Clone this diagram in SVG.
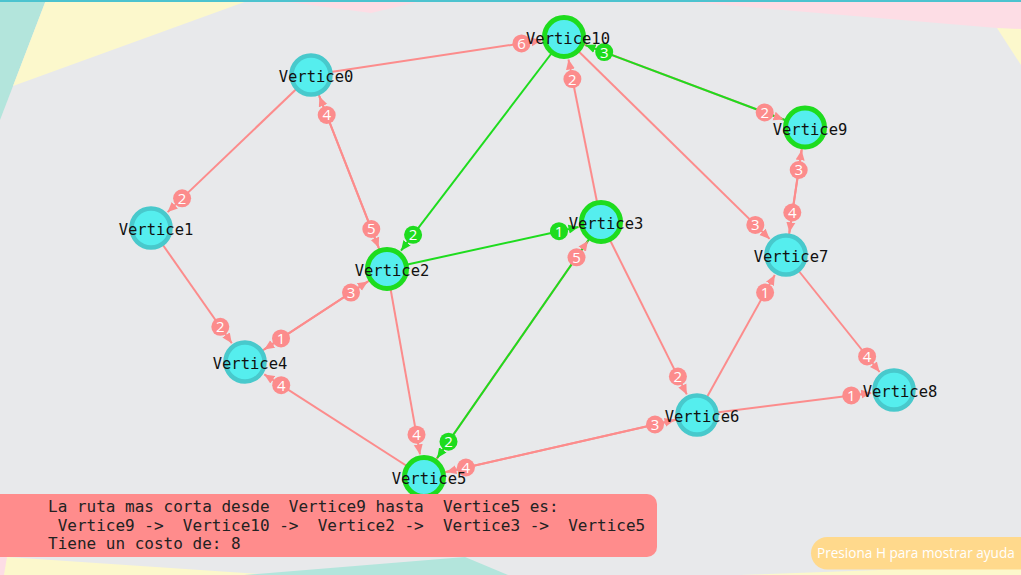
<svg xmlns="http://www.w3.org/2000/svg" width="1021" height="575" viewBox="0 0 1021 575">
<style>
.ep{stroke:#fc8c8c;stroke-width:2;fill:none}
.eg{stroke:#1edc1e;stroke-width:2;fill:none}
.ap{stroke:none;fill:none;marker-end:url(#mp)}
.ag{stroke:none;fill:none;marker-end:url(#mg)}
.lp{fill:#fc8c8c}
.lg{fill:#1edc1e}
.lt{font-family:"Open Sans","Liberation Sans",sans-serif;font-size:15px;fill:#ffffff;text-anchor:middle}
.nb{fill:#55eeee;stroke:#48c9cc;stroke-width:4.5}
.ng{fill:#55eeee;stroke:#1edc1e;stroke-width:5}
.nt{font-family:"DejaVu Sans Mono","Liberation Mono",monospace;font-size:15.5px;fill:#111;text-anchor:middle}
.pt{font-family:"DejaVu Sans Mono","Liberation Mono",monospace;font-size:16px;fill:#222;white-space:pre}
</style>
<defs>
<marker id="mp" viewBox="0 0 10 10" refX="10" refY="5" markerWidth="10" markerHeight="10" markerUnits="userSpaceOnUse" orient="auto"><path d="M0,0.5 L10,5 L0,9.5 z" fill="#fc8c8c"/></marker>
<marker id="mg" viewBox="0 0 10 10" refX="10" refY="5" markerWidth="10" markerHeight="10" markerUnits="userSpaceOnUse" orient="auto"><path d="M0,0.5 L10,5 L0,9.5 z" fill="#1edc1e"/></marker>
</defs>
<g id="background">
<rect x="0" y="0" width="1021" height="575" fill="#e8e9eb"/>
<polygon points="0,0 46,0 0,120" fill="#b3e5dc"/>
<polygon points="46,0 250,0 13,86" fill="#fcf8cc"/>
<polygon points="273,0 426,0 371,13" fill="#fddde5"/>
<polygon points="665,0 1021,0 1021,30 997,28" fill="#fddde5"/>
<polygon points="997,28 1021,29 1021,65" fill="#fcf8cc"/>
<polygon points="7,557 273,575 0,575 0,575" fill="#fcf8cc"/>
<polygon points="0,557 7,557 4,575 0,575" fill="#fddde5"/>
<polygon points="244,575 465,557 508,575" fill="#b3e5dc"/>
<polygon points="740,575 1021,565 1021,575" fill="#fcf8cc"/>
<rect x="0" y="0" width="1021" height="2" fill="#4cc3cf"/>
</g>
<g id="connectors">
<g id="edge-lines">
<line class="ep" x1="311" y1="75" x2="541.3" y2="40.4"/>
<line class="ep" x1="311" y1="75" x2="167.6" y2="212.1"/>
<line class="ep" x1="387" y1="269" x2="319.4" y2="96.4"/>
<line class="ep" x1="311" y1="75" x2="378.6" y2="247.6"/>
<line class="ep" x1="151" y1="228" x2="231.8" y2="343.2"/>
<line class="ep" x1="387" y1="269" x2="264.3" y2="349.4"/>
<line class="ep" x1="245" y1="362" x2="367.7" y2="281.6"/>
<line class="ep" x1="424" y1="477" x2="264.3" y2="374.4"/>
<line class="ep" x1="387" y1="269" x2="420" y2="454.4"/>
<line class="ep" x1="424" y1="477" x2="587.9" y2="240.9"/>
<line class="ep" x1="564" y1="37" x2="783.5" y2="119.4"/>
<line class="ep" x1="601" y1="222" x2="568.5" y2="59.5"/>
<line class="ep" x1="564" y1="37" x2="769.6" y2="238.9"/>
<line class="ep" x1="601" y1="222" x2="686.8" y2="394.4"/>
<line class="ep" x1="786" y1="255" x2="801.6" y2="150.2"/>
<line class="ep" x1="805" y1="127.5" x2="789.4" y2="232.3"/>
<line class="ep" x1="786" y1="255" x2="879.6" y2="372"/>
<line class="ep" x1="697" y1="415" x2="774.8" y2="275.1"/>
<line class="ep" x1="697" y1="415" x2="871.2" y2="392.9"/>
<line class="ep" x1="424" y1="477" x2="674.6" y2="420.1"/>
<line class="ep" x1="697" y1="415" x2="446.4" y2="471.9"/>
<line class="eg" x1="564" y1="37" x2="401" y2="250.7"/>
<line class="eg" x1="387" y1="269" x2="578.5" y2="226.9"/>
<line class="eg" x1="601" y1="222" x2="437.1" y2="458.1"/>
<line class="eg" x1="805" y1="127.5" x2="585.5" y2="45.1"/>
</g>
<g id="edge-arrows">
<path class="ap" d="M521.5,43.4 L541.3,40.4"/>
<path class="ap" d="M182.1,198.3 L167.6,212.1"/>
<path class="ap" d="M326.7,115 L319.4,96.4"/>
<path class="ap" d="M371.3,229 L378.6,247.6"/>
<path class="ap" d="M220.3,326.8 L231.8,343.2"/>
<path class="ap" d="M281,338.4 L264.3,349.4"/>
<path class="ap" d="M351,292.6 L367.7,281.6"/>
<path class="ap" d="M281.2,385.2 L264.3,374.4"/>
<path class="ap" d="M416.5,434.7 L420,454.4"/>
<path class="ap" d="M576.5,257.3 L587.9,240.9"/>
<path class="ap" d="M764.7,112.4 L783.5,119.4"/>
<path class="ap" d="M572.4,79.1 L568.5,59.5"/>
<path class="ap" d="M755.3,224.9 L769.6,238.9"/>
<path class="ap" d="M677.9,376.5 L686.8,394.4"/>
<path class="ap" d="M798.7,170 L801.6,150.2"/>
<path class="ap" d="M792.3,212.5 L789.4,232.3"/>
<path class="ap" d="M867.1,356.4 L879.6,372"/>
<path class="ap" d="M765.1,292.6 L774.8,275.1"/>
<path class="ap" d="M851.3,395.4 L871.2,392.9"/>
<path class="ap" d="M655,424.5 L674.6,420.1"/>
<path class="ap" d="M465.9,467.5 L446.4,471.9"/>
<path class="ag" d="M413.1,234.8 L401,250.7"/>
<path class="ag" d="M559,231.2 L578.5,226.9"/>
<path class="ag" d="M448.5,441.7 L437.1,458.1"/>
<path class="ag" d="M604.2,52.1 L585.5,45.1"/>
</g>
<g id="edge-labels">
<circle class="lp" cx="521.5" cy="43.4" r="9"/><text class="lt" x="521.5" y="48.8">6</text>
<circle class="lp" cx="182.1" cy="198.3" r="9"/><text class="lt" x="182.1" y="203.7">2</text>
<circle class="lp" cx="326.7" cy="115" r="9"/><text class="lt" x="326.7" y="120.4">4</text>
<circle class="lp" cx="371.3" cy="229" r="9"/><text class="lt" x="371.3" y="234.4">5</text>
<circle class="lp" cx="220.3" cy="326.8" r="9"/><text class="lt" x="220.3" y="332.2">2</text>
<circle class="lp" cx="281" cy="338.4" r="9"/><text class="lt" x="281" y="343.8">1</text>
<circle class="lp" cx="351" cy="292.6" r="9"/><text class="lt" x="351" y="298">3</text>
<circle class="lp" cx="281.2" cy="385.2" r="9"/><text class="lt" x="281.2" y="390.6">4</text>
<circle class="lp" cx="416.5" cy="434.7" r="9"/><text class="lt" x="416.5" y="440.1">4</text>
<circle class="lp" cx="576.5" cy="257.3" r="9"/><text class="lt" x="576.5" y="262.7">5</text>
<circle class="lp" cx="764.7" cy="112.4" r="9"/><text class="lt" x="764.7" y="117.8">2</text>
<circle class="lp" cx="572.4" cy="79.1" r="9"/><text class="lt" x="572.4" y="84.5">2</text>
<circle class="lp" cx="755.3" cy="224.9" r="9"/><text class="lt" x="755.3" y="230.3">3</text>
<circle class="lp" cx="677.9" cy="376.5" r="9"/><text class="lt" x="677.9" y="381.9">2</text>
<circle class="lp" cx="798.7" cy="170" r="9"/><text class="lt" x="798.7" y="175.4">3</text>
<circle class="lp" cx="792.3" cy="212.5" r="9"/><text class="lt" x="792.3" y="217.9">4</text>
<circle class="lp" cx="867.1" cy="356.4" r="9"/><text class="lt" x="867.1" y="361.8">4</text>
<circle class="lp" cx="765.1" cy="292.6" r="9"/><text class="lt" x="765.1" y="298">1</text>
<circle class="lp" cx="851.3" cy="395.4" r="9"/><text class="lt" x="851.3" y="400.8">1</text>
<circle class="lp" cx="655" cy="424.5" r="9"/><text class="lt" x="655" y="429.9">3</text>
<circle class="lp" cx="465.9" cy="467.5" r="9"/><text class="lt" x="465.9" y="472.9">4</text>
<circle class="lg" cx="413.1" cy="234.8" r="9"/><text class="lt" x="413.1" y="240.2">2</text>
<circle class="lg" cx="559" cy="231.2" r="9"/><text class="lt" x="559" y="236.6">1</text>
<circle class="lg" cx="448.5" cy="441.7" r="9"/><text class="lt" x="448.5" y="447.1">2</text>
<circle class="lg" cx="604.2" cy="52.1" r="9"/><text class="lt" x="604.2" y="57.5">3</text>
</g>
</g>
<g id="Vertice0"><circle class="nb" cx="311" cy="75" r="19.5"/><text class="nt" x="316" y="82">Vertice0</text></g>
<g id="Vertice1"><circle class="nb" cx="151" cy="228" r="19.5"/><text class="nt" x="156" y="235">Vertice1</text></g>
<g id="Vertice2"><circle class="ng" cx="387" cy="269" r="19.5"/><text class="nt" x="392" y="276">Vertice2</text></g>
<g id="Vertice3"><circle class="ng" cx="601" cy="222" r="19.5"/><text class="nt" x="606" y="229">Vertice3</text></g>
<g id="Vertice4"><circle class="nb" cx="245" cy="362" r="19.5"/><text class="nt" x="250" y="369">Vertice4</text></g>
<g id="Vertice5"><circle class="ng" cx="424" cy="477" r="19.5"/><text class="nt" x="429" y="484">Vertice5</text></g>
<g id="Vertice6"><circle class="nb" cx="697" cy="415" r="19.5"/><text class="nt" x="702" y="422">Vertice6</text></g>
<g id="Vertice7"><circle class="nb" cx="786" cy="255" r="19.5"/><text class="nt" x="791" y="262">Vertice7</text></g>
<g id="Vertice8"><circle class="nb" cx="894" cy="390" r="19.5"/><text class="nt" x="900" y="397">Vertice8</text></g>
<g id="Vertice9"><circle class="ng" cx="805" cy="127.5" r="19.5"/><text class="nt" x="810" y="134.5">Vertice9</text></g>
<g id="Vertice10"><circle class="ng" cx="564" cy="37" r="19.5"/><text class="nt" x="568" y="44">Vertice10</text></g>
<g id="result-panel">
<rect x="-12" y="494" width="669" height="63" rx="10" fill="#ff8c8c"/>
<text class="pt" x="48" y="512">La ruta mas corta desde  Vertice9 hasta  Vertice5 es:</text>
<text class="pt" x="48" y="531"> Vertice9 -&gt;  Vertice10 -&gt;  Vertice2 -&gt;  Vertice3 -&gt;  Vertice5</text>
<text class="pt" x="48" y="549">Tiene un costo de: 8</text>
</g>
<g id="help-pill">
<rect x="811" y="537" width="240" height="32.5" rx="16.25" fill="#ffd98c"/>
<text x="817" y="558" font-family="'Open Sans','Liberation Sans',sans-serif" font-size="13.6" fill="#ffffff">Presiona H para mostrar ayuda</text>
</g>
</svg>
